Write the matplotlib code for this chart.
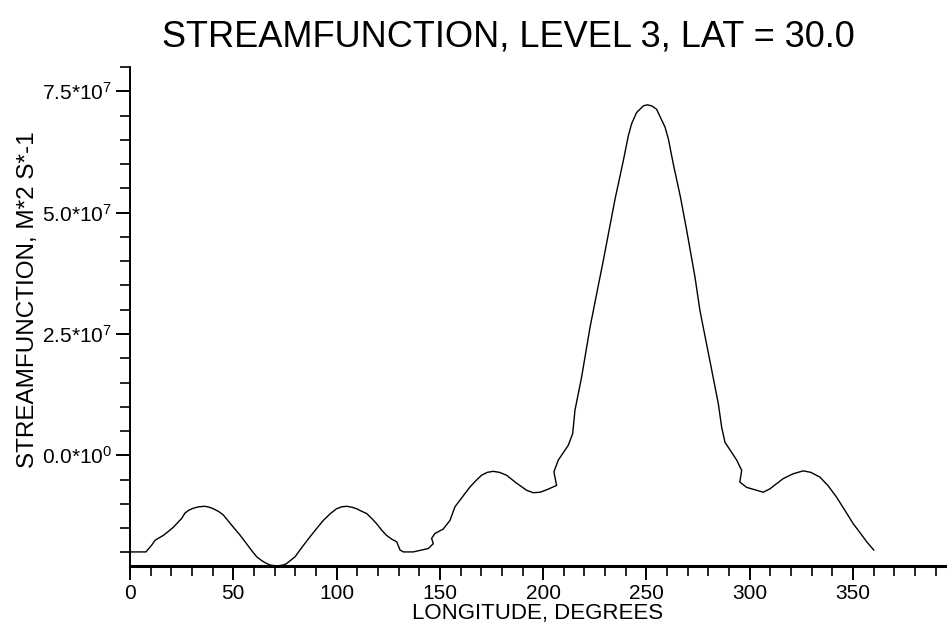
import matplotlib
matplotlib.use("Agg")
import matplotlib.pyplot as plt
from matplotlib.ticker import MultipleLocator, FixedLocator

plt.rcParams["font.family"] = ["Liberation Sans", "DejaVu Sans"]
plt.rcParams["mathtext.fontset"] = "custom"
plt.rcParams["mathtext.rm"] = "Liberation Sans"
plt.rcParams["mathtext.it"] = "Liberation Sans"
plt.rcParams["mathtext.default"] = "rm"

SCALE = 1e7

# streamfunction along lat 30 (units of 1e7 m^2/s)
longitude = [
    0.0, 7.7, 10.5, 12.1, 16.1, 18.5, 21.0, 23.0, 25.0, 26.6, 28.5, 30.6, 33.3,
    36.3, 38.5, 40.3, 43.0, 45.2, 47.5, 50.0, 53.0, 55.7, 58.5, 61.3, 63.5,
    65.3, 67.8, 71.0, 74.2, 75.8, 79.9, 83.5, 87.1, 90.5, 93.6, 97.0, 100.0,
    102.5, 104.9, 107.5, 109.7, 112.0, 114.6, 117.0, 119.4, 122.0, 124.2,
    126.8, 129.1, 130.7, 132.3, 137.1, 144.4, 146.8, 146.0, 147.6, 151.6,
    154.9, 157.3, 164.6, 167.5, 170.2, 173.0, 175.8, 178.8, 182.3, 187.0,
    192.0, 195.2, 198.5, 201.7, 206.5, 205.2, 207.3, 212.2, 214.3, 215.4,
    218.6, 222.7, 225.9, 229.1, 234.8, 238.8, 241.2, 242.8, 245.2, 248.5,
    250.4, 252.5, 254.9, 259.0, 260.6, 263.0, 266.5, 269.5, 273.5, 275.9,
    280.7, 284.8, 286.4, 288.0, 293.7, 296.1, 295.2, 298.5, 306.5, 309.8,
    312.5, 316.2, 321.0, 325.9, 329.5, 334.0, 338.0, 342.0, 346.0, 350.1,
    353.5, 356.6, 360.0,
]
streamfunction = [
    -1.99, -1.99, -1.85, -1.75, -1.65, -1.57, -1.48, -1.39, -1.30, -1.19, -1.13, -1.09, -1.06,
    -1.05, -1.07, -1.10, -1.16, -1.23, -1.35, -1.48, -1.63, -1.78, -1.94, -2.09, -2.16,
    -2.21, -2.26, -2.28, -2.26, -2.23, -2.09, -1.88, -1.68, -1.50, -1.34, -1.20, -1.10,
    -1.06, -1.05, -1.07, -1.10, -1.15, -1.20, -1.30, -1.41, -1.55, -1.65,
    -1.73, -1.78, -1.95, -1.99, -1.99, -1.92, -1.82, -1.71, -1.61, -1.52,
    -1.34, -1.06, -0.65, -0.52, -0.41, -0.35, -0.33, -0.35, -0.41, -0.57,
    -0.72, -0.77, -0.76, -0.71, -0.62, -0.34, -0.10, 0.21, 0.45, 0.93,
    1.61, 2.64, 3.33, 4.01, 5.28, 6.07, 6.58, 6.83, 7.06, 7.20,
    7.22, 7.20, 7.13, 6.76, 6.52, 6.00, 5.31, 4.63, 3.67, 2.98,
    1.95, 1.06, 0.58, 0.27, -0.10, -0.31, -0.55, -0.66, -0.76, -0.69,
    -0.60, -0.48, -0.38, -0.32, -0.35, -0.45, -0.63, -0.86, -1.13, -1.41,
    -1.60, -1.78, -1.95,
]

x_major = [0, 50, 100, 150, 200, 250, 300, 350]
y_major = [0.0, 2.5, 5.0, 7.5]
y_labels = [r"0.0*10$^{0}$", r"2.5*10$^{7}$", r"5.0*10$^{7}$", r"7.5*10$^{7}$"]

fig = plt.figure(figsize=(9.47, 6.37), dpi=100)
ax = fig.add_axes([130 / 947, 1 - 566 / 637, 816 / 947, 499 / 637])

ax.plot(longitude, [v * SCALE for v in streamfunction], color="black", lw=1.0)

ax.set_xlim(0, 395)
ax.set_ylim(-2.28 * SCALE, 8.0 * SCALE)

ax.xaxis.set_major_locator(FixedLocator(x_major))
ax.xaxis.set_minor_locator(MultipleLocator(10))
ax.yaxis.set_major_locator(FixedLocator([v * SCALE for v in y_major]))
ax.yaxis.set_minor_locator(MultipleLocator(0.5 * SCALE))
ax.set_yticklabels(y_labels)

for side in ("top", "right"):
    ax.spines[side].set_visible(False)
ax.spines["bottom"].set_linewidth(2.2)
ax.spines["left"].set_linewidth(1.4)

ax.tick_params(axis="both", which="major", direction="out", length=10, width=1.4,
               labelsize=15, pad=3, color="black")
ax.tick_params(axis="both", which="minor", direction="out", length=7, width=1.2)

ax.set_xlabel("LONGITUDE, DEGREES", fontsize=16, labelpad=0)
ax.set_ylabel("STREAMFUNCTION, M*2 S*-1", fontsize=17.5)
ax.yaxis.set_label_coords(-0.112, 0.533)

fig.text(508 / 947, 1 - 37 / 637, "STREAMFUNCTION, LEVEL 3, LAT = 30.0",
         ha="center", va="center", fontsize=26)

fig.savefig("out.png", dpi=100)
